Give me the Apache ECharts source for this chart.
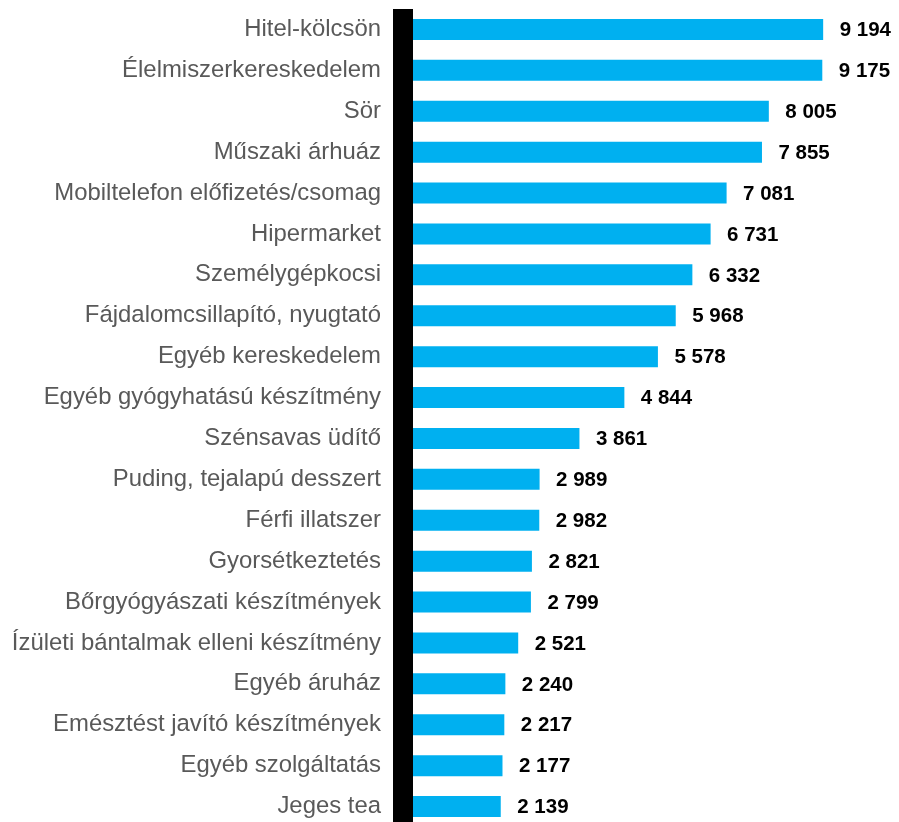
<!DOCTYPE html>
<html>
<head>
<meta charset="utf-8">
<script src="https://cdn.jsdelivr.net/npm/echarts@6/dist/echarts.min.js"></script>
<style>html,body{margin:0;padding:0;background:#fff}#c{width:899px;height:822px}</style>
</head>
<body>
<div id="c"></div>
<script>
const categories = [
  "Hitel-kölcsön",
  "Élelmiszerkereskedelem",
  "Sör",
  "Műszaki árhuáz",
  "Mobiltelefon előfizetés/csomag",
  "Hipermarket",
  "Személygépkocsi",
  "Fájdalomcsillapító, nyugtató",
  "Egyéb kereskedelem",
  "Egyéb gyógyhatású készítmény",
  "Szénsavas üdítő",
  "Puding, tejalapú desszert",
  "Férfi illatszer",
  "Gyorsétkeztetés",
  "Bőrgyógyászati készítmények",
  "Ízületi bántalmak elleni készítmény",
  "Egyéb áruház",
  "Emésztést javító készítmények",
  "Egyéb szolgáltatás",
  "Jeges tea"
];
const values = [9194, 9175, 8005, 7855, 7081, 6731, 6332, 5968, 5578, 4844, 3861, 2989, 2982, 2821, 2799, 2521, 2240, 2217, 2177, 2139];

const chart = echarts.init(document.getElementById('c'));
chart.setOption({
  animation: false,
  backgroundColor: '#fff',
  grid: { left: 403, top: 9, width: 457, height: 818, containLabel: false, outerBoundsMode: 'none' },
  xAxis: {
    type: 'value', min: 0, max: 10000, show: false
  },
  yAxis: {
    type: 'category',
    inverse: true,
    data: categories,
    z: 10,
    axisLine: { show: true, lineStyle: { color: '#000', width: 20, cap: 'butt' } },
    axisTick: { show: false },
    axisLabel: {
      margin: 22,
      color: '#595959',
      fontSize: 23.9,
      fontFamily: 'Liberation Sans, Arial, sans-serif'
    }
  },
  series: [{
    type: 'bar',
    data: values,
    barWidth: 21,
    itemStyle: { color: '#00B0F0' },
    label: {
      show: true,
      position: 'right',
      distance: 16.5,
      offset: [0, 1],
      color: '#000',
      fontWeight: 'bold',
      fontSize: 20.5,
      fontFamily: 'Liberation Sans, Arial, sans-serif',
      formatter: p => String(p.value).replace(/\B(?=(\d{3})+(?!\d))/g, ' ')
    }
  }]
});
</script>
</body>
</html>
